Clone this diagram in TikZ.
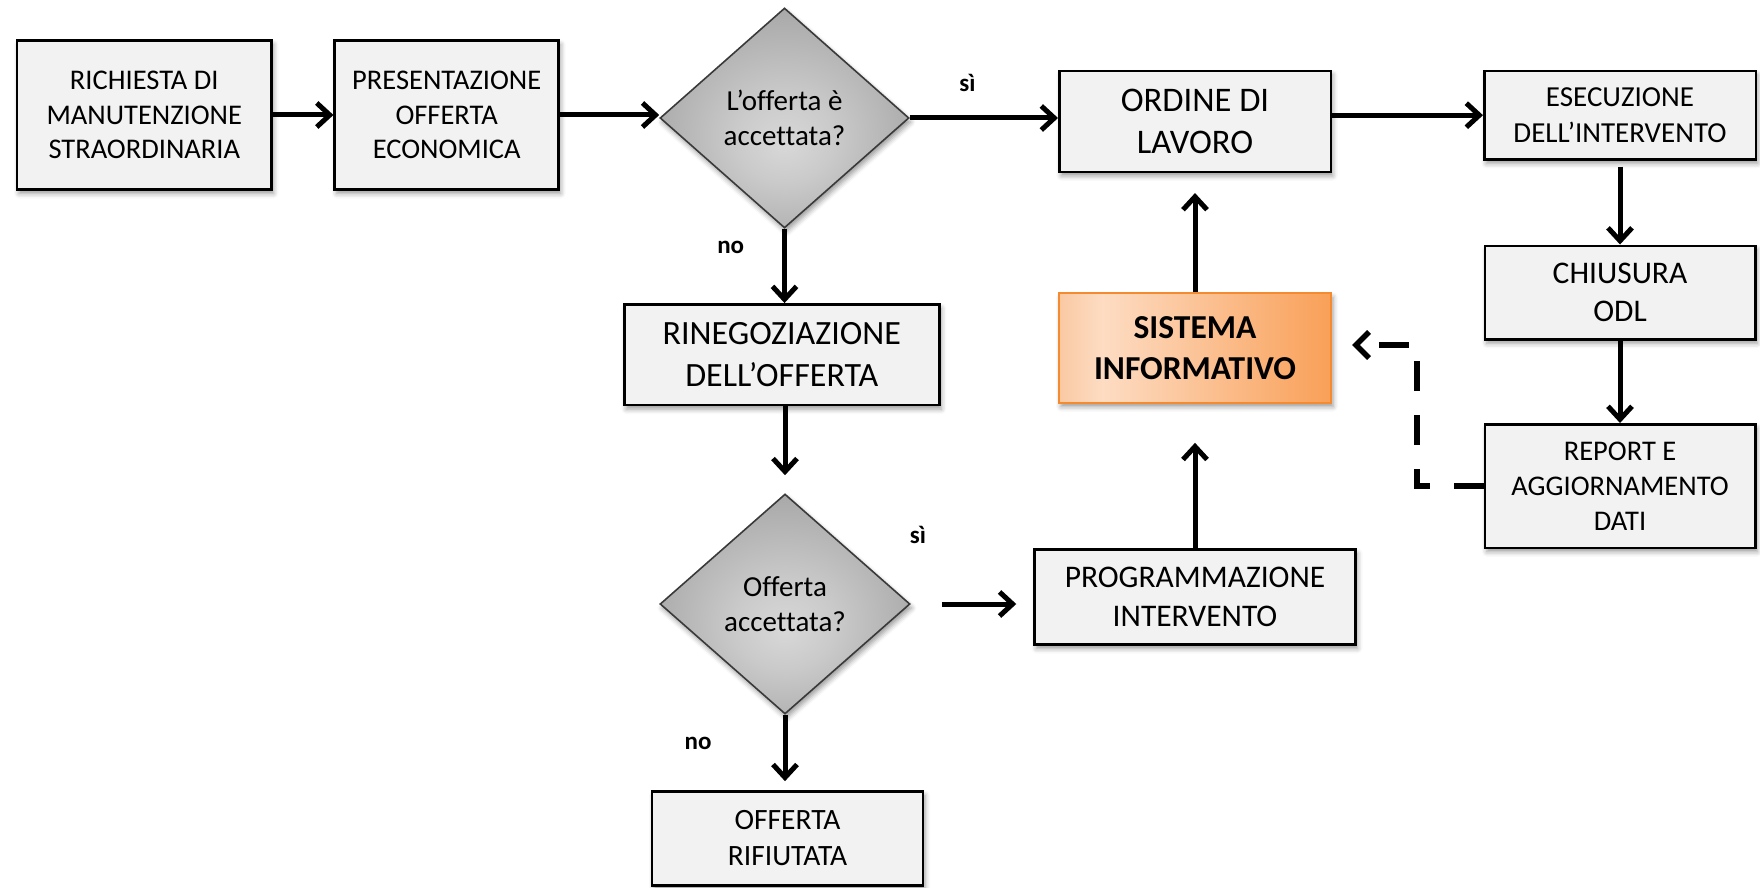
\documentclass[tikz,border=0pt]{standalone}
\usepackage{fontspec}
\setmainfont[Ligatures={TeX,NoCommon}]{Carlito}
\usetikzlibrary{shapes.geometric,arrows.meta,shadows.blur}

\definecolor{boxfill}{HTML}{F2F2F2}
\definecolor{diaLine}{HTML}{3A3A3A}
\definecolor{sisA}{HTML}{FAC9A2}
\definecolor{sisB}{HTML}{FDDCC3}
\definecolor{sisR}{HTML}{F9A058}
\definecolor{sisLine}{HTML}{F58B30}

% warm left-to-right gradient for the information-system box
\pgfdeclarehorizontalshading{sisshade}{100bp}{color(0bp)=(sisA); color(25bp)=(sisA); color(33bp)=(sisB); color(75bp)=(sisR); color(100bp)=(sisR)}
% grey decision fill, lightest a little below the centre
\pgfdeclareradialshading{diashade}{\pgfpoint{0bp}{-6bp}}{color(0bp)=(rgb,255:red,216;green,216;blue,216); color(10bp)=(rgb,255:red,202;green,202;blue,202); color(30bp)=(rgb,255:red,164;green,164;blue,164); color(50bp)=(rgb,255:red,164;green,164;blue,164)}

\newcommand{\fs}[1]{\fontsize{#1}{1.22\dimexpr #1pt\relax}\selectfont}

\begin{document}
\begin{tikzpicture}[x=1pt,y=-1pt,
  every node/.style={align=center, inner sep=0pt},
  boxshadow/.style={blur shadow={shadow xshift=2pt, shadow yshift=-4pt, shadow blur radius=5pt, shadow opacity=40}},
  procbox/.style={draw=black, line width=2.5pt, fill=boxfill, boxshadow},
  decision/.style={diamond, draw=diaLine, line width=1.6pt, shading=diashade, boxshadow},
  sysbox/.style={draw=sisLine, line width=2.2pt, shading=sisshade, shading angle=0, boxshadow},
  lbl/.style={font=\fs{25}\bfseries},
  arr/.style={line width=5pt, -{Straight Barb[length=13pt, width=24pt, line width=5pt]}},
  dasharr/.style={line width=6pt, dash pattern=on 30pt off 24pt, -{Straight Barb[length=13pt, width=26pt, line width=5.5pt]}}
]
\useasboundingbox (0,0) rectangle (1760,888);

% main flow
\node[procbox, minimum width=254.5pt, minimum height=149pt, font=\fs{28.5}] (r1) at (144.3,115)
  {RICHIESTA DI\\MANUTENZIONE\\STRAORDINARIA};
\node[procbox, minimum width=224pt, minimum height=149pt, font=\fs{28.5}] (r2) at (446.7,115)
  {PRESENTAZIONE\\OFFERTA\\ECONOMICA};
\node[decision, minimum width=249pt, minimum height=220pt, font=\fs{29}] (d1) at (784.5,118)
  {L'offerta è\\accettata?};
\node[procbox, minimum width=271.5pt, minimum height=101pt, font=\fs{34.5}] (ord) at (1195,121.3)
  {ORDINE DI\\LAVORO};
\node[procbox, minimum width=271.5pt, minimum height=88.5pt, font=\fs{29}] (ese) at (1620,115.2)
  {ESECUZIONE\\DELL'INTERVENTO};
\node[procbox, minimum width=270.5pt, minimum height=93.5pt, font=\fs{31.5}] (chi) at (1620,292.5)
  {CHIUSURA\\ODL};
\node[procbox, minimum width=270.5pt, minimum height=123.5pt, font=\fs{28.5}] (rep) at (1620,486)
  {REPORT E\\AGGIORNAMENTO\\DATI};
\node[sysbox, minimum width=272pt, minimum height=109.5pt, font=\fs{33.5}\bfseries] (sis) at (1195,348)
  {SISTEMA\\INFORMATIVO};

% renegotiation branch
\node[procbox, minimum width=315pt, minimum height=100.8pt, font=\fs{34}] (rin) at (781.8,354.7)
  {RINEGOZIAZIONE\\DELL'OFFERTA};
\node[decision, minimum width=250pt, minimum height=220pt, font=\fs{29}] (d2) at (785,604)
  {Offerta\\accettata?};
\node[procbox, minimum width=321pt, minimum height=95pt, font=\fs{31.5}] (pro) at (1195,597)
  {PROGRAMMAZIONE\\INTERVENTO};
\node[procbox, minimum width=271pt, minimum height=94pt, font=\fs{29.5}] (off) at (787.5,838.4)
  {OFFERTA\\RIFIUTATA};

% branch labels
\node[lbl] (si1) at (967.5,83) {sì};
\node[lbl] (no1) at (730.7,247) {no};
\node[lbl] (si2) at (918,535) {sì};
\node[lbl] (no2) at (698,743) {no};

% connectors
\draw[arr] (r1) -- (r2);
\draw[arr] (r2.east) -- (r2.east -| d1.west);
\draw[arr] (d1.east) -- (d1.east -| ord.west);
\draw[arr] (d1.south) -- (d1.south |- rin.north);
\draw[arr] (ord.east |- ese.west) -- (ese.west);
\draw[arr, shorten <=6pt] (ese) -- (chi);
\draw[arr] (chi) -- (rep);
\draw[arr, shorten >=20pt] (sis) -- (ord);
\draw[arr, shorten >=39pt] (pro) -- (sis);
\draw[arr, shorten >=18pt] (d2.north |- rin.south) -- (d2.north);
\draw[arr, shorten <=31pt, shorten >=17pt] (d2.east) -- (d2.east -| pro.west);
\draw[arr, shorten >=9pt] (d2.south) -- (d2.south |- off.north);

% data feedback to the information system
\coordinate (bend) at (1416.5,345);
\draw[dasharr, shorten >=20pt] (rep.west) -| (bend) -- (bend -| sis.east);
\end{tikzpicture}
\end{document}
